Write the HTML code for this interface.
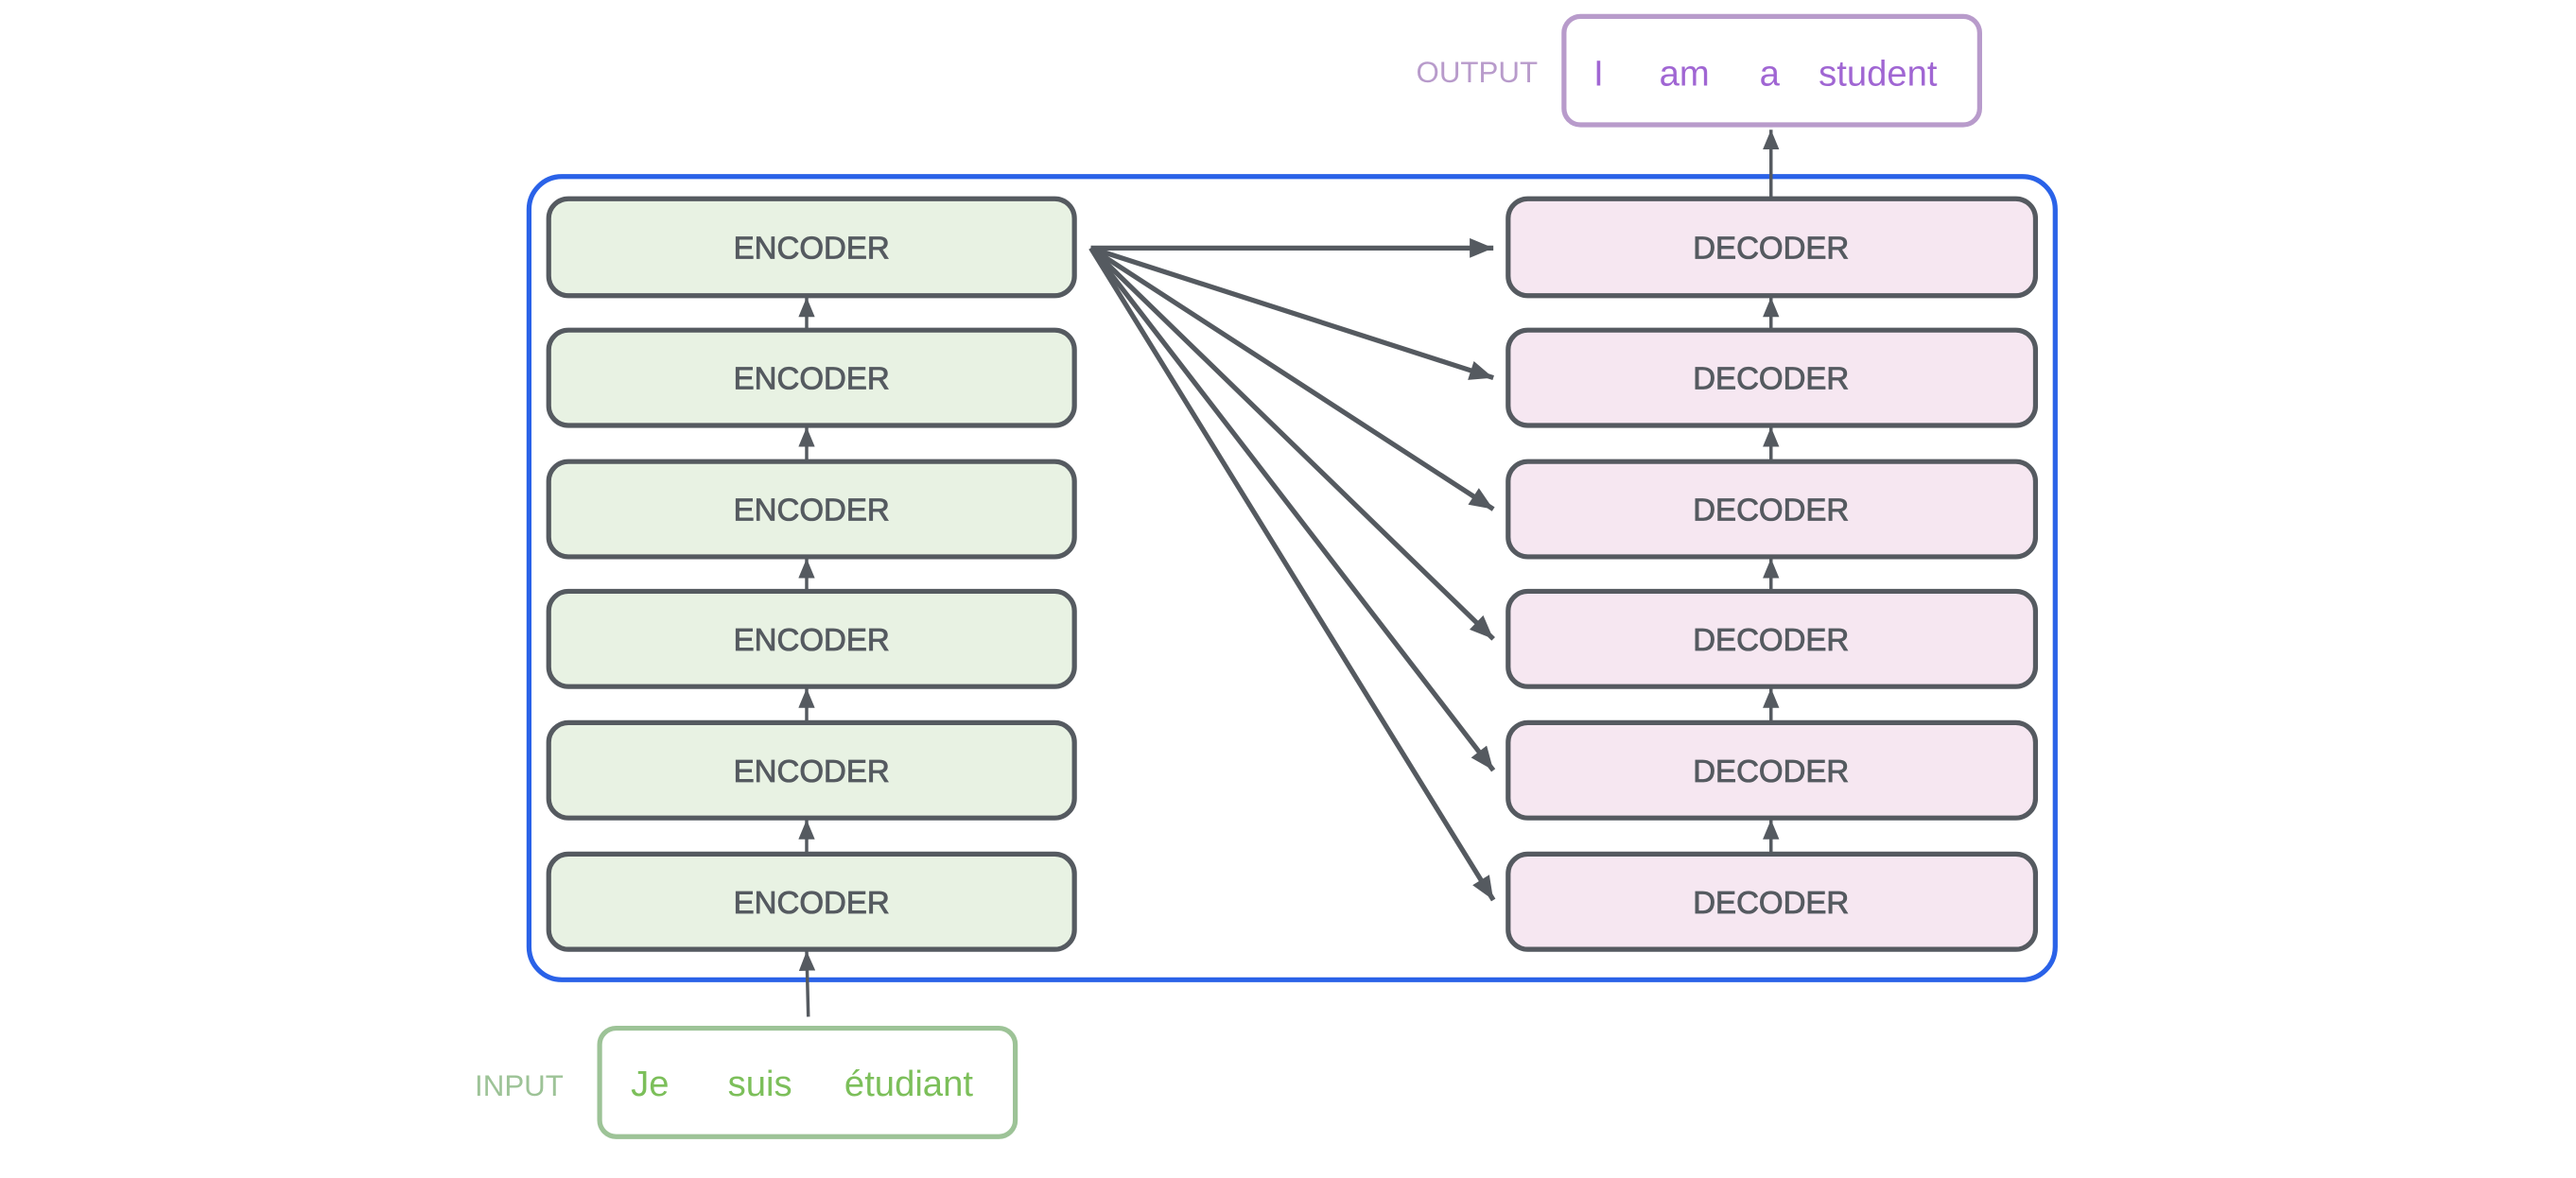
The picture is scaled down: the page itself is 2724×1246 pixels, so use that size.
<!DOCTYPE html>
<html><head><meta charset="utf-8"><style>
html,body{margin:0;padding:0;background:#fff;}
svg{display:block;}
text{font-family:"Liberation Sans",sans-serif;}
</style></head><body>
<svg width="2724" height="1246" viewBox="0 0 1568 717.2" preserveAspectRatio="none" xmlns="http://www.w3.org/2000/svg">
<defs>
<marker id="a" viewBox="0 0 12 10" refX="12" refY="5" markerWidth="12" markerHeight="10" markerUnits="userSpaceOnUse" orient="auto">
<path d="M0,0 L12,5 L0,10 z" fill="#555a60"/>
</marker>
<marker id="b" viewBox="0 0 12 10" refX="12" refY="5" markerWidth="16" markerHeight="12" markerUnits="userSpaceOnUse" orient="auto">
<path d="M0,0 L12,5 L0,10 z" fill="#555a60"/>
</marker>
</defs>
<rect x="322" y="107.5" width="929" height="489" rx="20" fill="none" stroke="#2a62e8" stroke-width="3"/>
<g stroke="#555a60" stroke-width="3">
<rect x="334" y="121" width="320" height="59" rx="12" fill="#e8f2e3"/>
<rect x="334" y="201" width="320" height="58" rx="12" fill="#e8f2e3"/>
<rect x="334" y="281" width="320" height="58" rx="12" fill="#e8f2e3"/>
<rect x="334" y="360" width="320" height="58" rx="12" fill="#e8f2e3"/>
<rect x="334" y="440" width="320" height="58" rx="12" fill="#e8f2e3"/>
<rect x="334" y="520" width="320" height="58" rx="12" fill="#e8f2e3"/>
<rect x="918" y="121" width="321" height="59" rx="12" fill="#f6e7f1"/>
<rect x="918" y="201" width="321" height="58" rx="12" fill="#f6e7f1"/>
<rect x="918" y="281" width="321" height="58" rx="12" fill="#f6e7f1"/>
<rect x="918" y="360" width="321" height="58" rx="12" fill="#f6e7f1"/>
<rect x="918" y="440" width="321" height="58" rx="12" fill="#f6e7f1"/>
<rect x="918" y="520" width="321" height="58" rx="12" fill="#f6e7f1"/>
</g>
<rect x="952" y="10" width="253" height="66" rx="10" fill="#fff" stroke="#b89bcb" stroke-width="3"/>
<rect x="365" y="626" width="253" height="66" rx="10" fill="#fff" stroke="#9dc397" stroke-width="3"/>
<g stroke="#555a60" stroke-width="2" fill="none" marker-end="url(#a)">
<line x1="491" y1="201" x2="491" y2="181"/>
<line x1="491" y1="281" x2="491" y2="260"/>
<line x1="491" y1="360" x2="491" y2="340"/>
<line x1="491" y1="440" x2="491" y2="419"/>
<line x1="491" y1="520" x2="491" y2="499"/>
<line x1="1078" y1="201" x2="1078" y2="181"/>
<line x1="1078" y1="281" x2="1078" y2="260"/>
<line x1="1078" y1="360" x2="1078" y2="340"/>
<line x1="1078" y1="440" x2="1078" y2="419"/>
<line x1="1078" y1="520" x2="1078" y2="499"/>
<line x1="1078" y1="121" x2="1078" y2="79"/>
<line x1="492" y1="619" x2="491" y2="579"/>
</g>
<g stroke="#555a60" stroke-width="3" fill="none" marker-end="url(#b)">
<line x1="664" y1="151" x2="909" y2="151"/>
<line x1="664" y1="151" x2="909" y2="230"/>
<line x1="664" y1="151" x2="909" y2="310"/>
<line x1="664" y1="151" x2="909" y2="389"/>
<line x1="664" y1="151" x2="909" y2="469"/>
<line x1="664" y1="151" x2="909" y2="548"/>
</g>
<g font-size="19" fill="#555a60" stroke="#555a60" stroke-width="0.5" text-anchor="middle">
<text x="494" y="157.5">ENCODER</text>
<text x="494" y="237">ENCODER</text>
<text x="494" y="317">ENCODER</text>
<text x="494" y="396">ENCODER</text>
<text x="494" y="476">ENCODER</text>
<text x="494" y="556">ENCODER</text>
<text x="1078" y="157.5">DECODER</text>
<text x="1078" y="237">DECODER</text>
<text x="1078" y="317">DECODER</text>
<text x="1078" y="396">DECODER</text>
<text x="1078" y="476">DECODER</text>
<text x="1078" y="556">DECODER</text>
</g>
<text x="899" y="50" font-size="18" fill="#b89bcb" text-anchor="middle">OUTPUT</text>
<g font-size="22" fill="#a066d3">
<text x="970" y="52">I</text>
<text x="1010" y="52">am</text>
<text x="1071" y="52">a</text>
<text x="1107" y="52">student</text>
</g>
<text x="316" y="667" font-size="18" fill="#9dc397" text-anchor="middle">INPUT</text>
<g font-size="22" fill="#7cbf5a">
<text x="384" y="667">Je</text>
<text x="443" y="667">suis</text>
<text x="514" y="667">étudiant</text>
</g>
</svg>
</body></html>
